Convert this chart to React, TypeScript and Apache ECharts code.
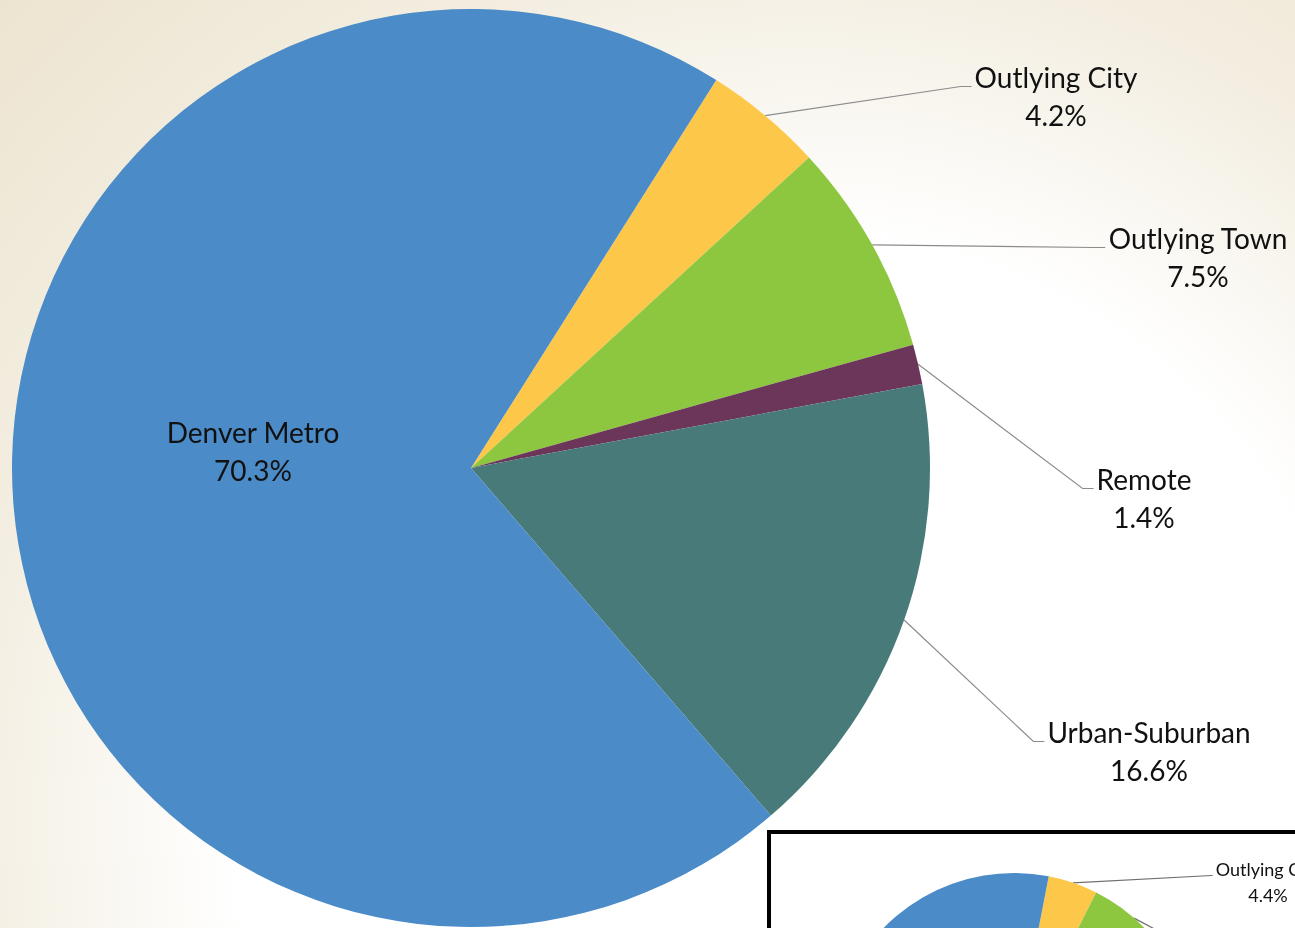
import React, { useEffect, useRef } from "react";
import * as echarts from "echarts";

const categories = ["Outlying City", "Outlying Town", "Remote", "Urban-Suburban", "Denver Metro"];
const mainValues = [4.2, 7.5, 1.4, 16.6, 70.3];
const insetValues = [4.4, 8.0, 1.6, 17.5, 68.5];
const sliceColors = ["#FDC74A", "#8DC63F", "#6B3659", "#477A78", "#4A8BC8"];

// label anchor positions (text centre x, block middle y) — layout only
const mainLabelPos: number[][] = [[1056, 96], [1198, 257], [1144, 498], [1149, 751], [253, 451]];
const insetLabelPos: number[][] = [[1268, 882], [1310, 985]];

const FONT = "Lato, 'Noto Sans', sans-serif";

export default function App() {
  const ref = useRef<HTMLDivElement>(null);
  useEffect(() => {
    document.body.style.margin = "0";
    const chart = echarts.init(ref.current!, undefined, { renderer: "svg" });
    const fmt = (p: any) => `${p.name}\n${Number(p.value).toFixed(1)}%`;

    const makeLayout = (positions: number[][], lineH: number, gap: number, stub: number) => (p: any) => {
      const pos = positions[p.dataIndex];
      if (!pos) return {};
      const w = p.labelRect.width;
      const h = p.labelRect.height;
      const left = pos[0] - w / 2;
      const elbowY = pos[1] - h / 2 + lineH * 0.75;
      const pts = p.labelLinePoints;
      const res: any = { x: pos[0], y: pos[1], align: "center", verticalAlign: "middle" };
      if (pts && pts.length) {
        res.labelLinePoints = [pts[0], [left - stub, elbowY], [left - gap, elbowY]];
      }
      return res;
    };

    chart.setOption({
      animation: false,
      backgroundColor: "transparent",
      graphic: [
        {
          type: "rect",
          z: 1,
          shape: { x: 769, y: 832, width: 700, height: 300 },
          style: { fill: "#ffffff", stroke: "#000000", lineWidth: 4 },
        },
      ],
      series: [
        {
          type: "pie",
          z: 2,
          center: [471, 468],
          radius: [0, 459],
          startAngle: 57.7,
          clockwise: true,
          avoidLabelOverlap: false,
          itemStyle: { borderWidth: 0 },
          label: {
            show: true,
            position: "outside",
            formatter: fmt,
            fontFamily: FONT,
            fontSize: 28,
            lineHeight: 38,
            color: "#111111",
            align: "center",
          },
          labelLine: { show: true, length: 20, length2: 20, lineStyle: { color: "#8c8c8c", width: 1.2 } },
          labelLayout: makeLayout(mainLabelPos, 38, 3, 14),
          data: categories.map((name, i) => ({
            name,
            value: mainValues[i],
            itemStyle: { color: sliceColors[i] },
            ...(name === "Denver Metro"
              ? { label: { position: "inside" }, labelLine: { show: false } }
              : {}),
          })),
        },
        {
          type: "pie",
          z: 3,
          center: [1014, 1055],
          radius: [0, 182],
          startAngle: 79,
          clockwise: true,
          avoidLabelOverlap: false,
          label: {
            show: true,
            position: "outside",
            formatter: fmt,
            fontFamily: FONT,
            fontSize: 18,
            lineHeight: 26,
            color: "#111111",
            align: "center",
          },
          labelLine: { show: true, length: 10, length2: 10, lineStyle: { color: "#6e6e6e", width: 1.2 } },
          labelLayout: makeLayout(insetLabelPos, 26, 3, 4),
          data: categories.map((name, i) => ({
            name,
            value: insetValues[i],
            itemStyle: { color: sliceColors[i] },
            label: { show: i < 2 },
            labelLine: { show: i < 2 },
          })),
        },
      ],
    });
    return () => chart.dispose();
  }, []);

  return (
    <div
      ref={ref}
      style={{
        position: "fixed",
        left: 0,
        top: 0,
        width: 1295,
        height: 928,
        background:
          "radial-gradient(ellipse farthest-corner at 62% 88%, #ffffff 0%, #ffffff 50%, #f3eee1 74%, #ede4d0 100%)",
      }}
    />
  );
}
